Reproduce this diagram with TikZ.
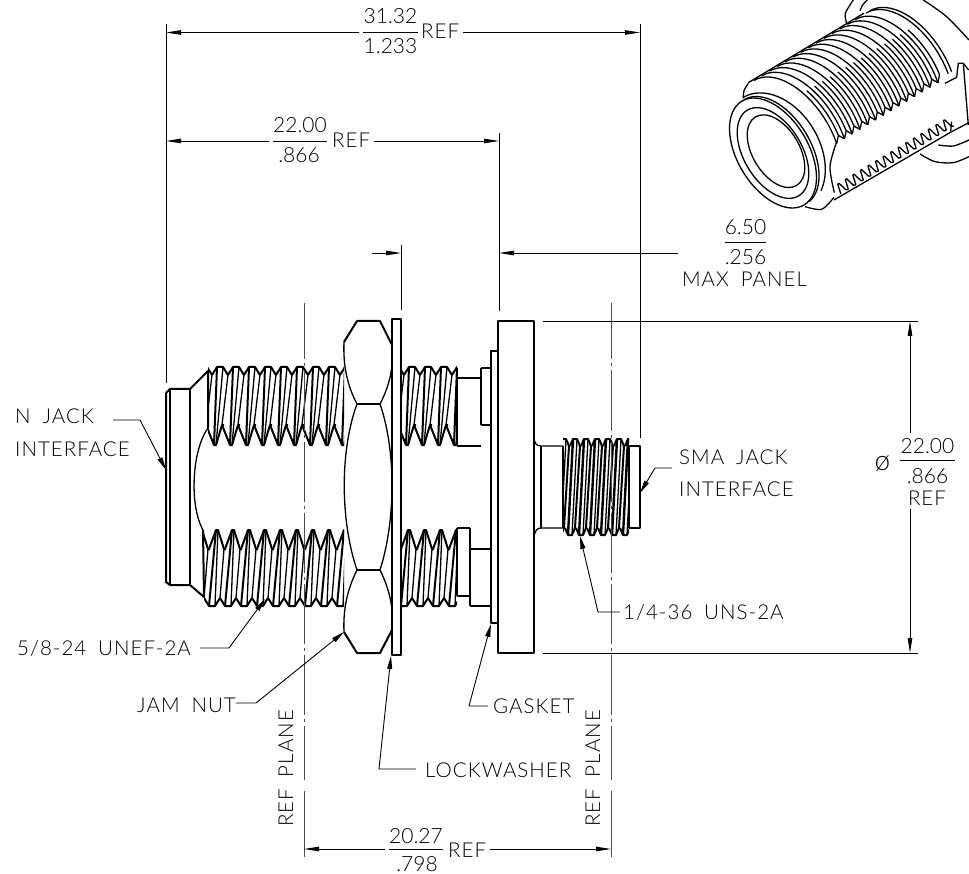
\documentclass[tikz,border=0pt]{standalone}
\usepackage{fontspec}
\setmainfont{Lato}[UprightFont=* Light,LetterSpace=5,WordSpace=1.8]
\newfontfamily\numfont{Lato}[UprightFont=* Light]
\usetikzlibrary{arrows.meta}
\tikzset{
  part/.style={line width=2pt,line join=round},
  thin part/.style={line width=1.3pt,line join=round},
  dim/.style={line width=0.9pt,-{Triangle[length=15pt,width=4.5pt]}},
  ext/.style={line width=0.9pt},
  leader/.style={line width=0.9pt,line join=round,-{Triangle[length=13pt,width=5pt]}},
  centerline/.style={line width=1pt,black!70,dash pattern=on 60pt off 4pt on 3pt off 4pt,dash phase=3.5pt},
  txt/.style={inner sep=0pt,font=\fontsize{20.5}{24}\selectfont,anchor=base west},
  num/.style={inner sep=0pt,font=\numfont\fontsize{21}{24}\selectfont,anchor=base}
}
% one turn of the big thread, top half and bottom half
\newcommand{\upperturn}[1]{
  \draw[part] (#1-8,375) -- (#1-3,367) -- (#1+3,367) -- (#1+8,375);
  \draw[part] (#1-14,425) -- (#1-6,445) -- (#1-4,445) -- (#1+2,425) -- (#1+4,425);
  \draw[part] (#1-3,367) -- (#1-6,445);
  \draw[thin part] (#1+3,367) -- (#1-4,445);
  \draw[thin part] (#1+8,375) -- (#1+2,425);
}
\newcommand{\lowerturn}[1]{
  \draw[part] (#1-3,549) -- (#1+4,530) -- (#1+6,530) -- (#1+12,549) -- (#1+14,549);
  \draw[part] (#1-8,598) -- (#1-3,606) -- (#1+3,606) -- (#1+8,598);
  \draw[part] (#1+4,530) -- (#1-3,606);
  \draw[thin part] (#1+6,530) -- (#1+3,606);
  \draw[thin part] (#1+12,549) -- (#1+8,598);
}
\newcommand{\smaturn}[1]{
  \draw[part] (#1-5,446) -- (#1-2,439) -- (#1+2,439) -- (#1+5,446);
  \draw[part] (#1-10,528) -- (#1-7,535) -- (#1-3,535) -- (#1,528);
  \draw[line width=2.4pt] (#1-2,439) -- (#1-7,535);
  \draw[thin part] (#1+2,439) -- (#1-3,535);
  \draw[line width=2pt] (#1+5,446) -- (#1,528);
}
\begin{document}
\begin{tikzpicture}[x=1pt,y=-1pt]
  \useasboundingbox (0,0) rectangle (969,874);

  % threads
  \begin{scope}
    \clip (208,360) rectangle (344,450);
    \foreach \c in {204,220,...,348} {\upperturn{\c}}
  \end{scope}
  \begin{scope}
    \clip (204,525) rectangle (344,612);
    \foreach \c in {196,212,...,340} {\lowerturn{\c}}
  \end{scope}
  \begin{scope}
    \clip (401,360) rectangle (457,450);
    \foreach \c in {396,412,...,460} {\upperturn{\c}}
  \end{scope}
  \begin{scope}
    \clip (401,525) rectangle (457,612);
    \foreach \c in {388,404,...,452} {\lowerturn{\c}}
  \end{scope}
  \begin{scope}
    \clip (563,435) rectangle (629,540);
    \foreach \c in {564,575,...,641} {\smaturn{\c}}
  \end{scope}

  % n jack end
  \draw[thin part] (170,389) -- (170,585);
  \draw[part] (166,393) -- (170,389) -- (190,389) -- (208,371) -- (208,428);
  \draw[part] (166,393) -- (166,582) -- (170,585) -- (190,585) -- (204,597) -- (203,530);
  \draw[part] (190,389) -- (190,585);
  \draw[thin part] (208,428) .. controls (192,450) and (189,505) .. (203,530);

  % jam nut
  \draw[part] (344,342) -- (357,321) -- (380,321) -- (392,345);
  \draw[part] (344,632) -- (357,653) -- (380,653) -- (392,630);
  \draw[part] (357,404) -- (380,404) (357,570) -- (380,570);
  \draw[thin part] (344,342) .. controls (343,365) and (347,385) .. (357,404);
  \draw[thin part] (392,345) .. controls (394,365) and (390,385) .. (380,404);
  \draw[thin part] (357,404) .. controls (340,450) and (340,520) .. (357,570);
  \draw[thin part] (380,404) .. controls (396,450) and (396,520) .. (380,570);
  \draw[thin part] (344,632) .. controls (343,610) and (347,590) .. (357,570);
  \draw[thin part] (392,630) .. controls (394,610) and (390,590) .. (380,570);
  \draw[thin part,fill=white] (392,319) rectangle (401,655);
  \draw[part] (392,319) -- (392,655);

  % flange side
  \draw[part] (457,378) -- (481,378) (457,446) -- (481,446);
  \draw[part] (457,368) -- (457,446);
  \draw[thin part] (481,368) -- (481,425);
  \draw[thin part] (481,368) -- (491,368) (481,425) -- (491,425);
  \draw[part] (457,528) -- (457,596);
  \draw[thin part] (457,528) -- (470,528) (457,596) -- (470,596);
  \draw[thin part] (470,528) -- (470,606);
  \draw[thin part] (470,549) -- (491,549) (470,606) -- (491,606);
  \draw[thin part] (491,351) rectangle (498,623);
  \draw[part] (498,321) rectangle (534,653);

  % sma end
  \draw[thin part] (534,439) .. controls (535,444) and (537,446) .. (541,446) -- (563,446);
  \draw[thin part] (534,536) .. controls (535,531) and (537,528) .. (541,528) -- (563,528);
  \draw[thin part] (541,446) -- (541,528);
  \draw[thin part] (563,446) -- (563,528);
  \draw[part] (629,446) -- (640,446) -- (640,528) -- (629,528);
  \draw[thin part] (629,446) -- (629,528);

  % reference planes
  \draw[centerline] (304,303) -- (304,780);
  \draw[ext,black!70] (304,791) -- (304,857);
  \draw[centerline] (611,303) -- (611,780);
  \draw[ext,black!70] (611,791) -- (611,857);

  % extension lines
  \draw[ext] (166,24) -- (166,383);
  \draw[ext] (640,24) -- (640,438);
  \draw[ext] (499,133) -- (499,311);
  \draw[ext] (401,245) -- (401,310);
  \draw[ext] (543,321) -- (918,321);
  \draw[ext] (543,653) -- (918,653);

  \coordinate (a1) at (166,32.5);
  \coordinate (b1) at (640,32.5);
  \coordinate (a2) at (166,141);
  \coordinate (b2) at (499,141);
  \coordinate (a3) at (401,253);
  \coordinate (s3) at (372,253);
  \coordinate (b3) at (499,253);
  \coordinate (e3) at (678,253);
  \coordinate (a4) at (910,321);
  \coordinate (b4) at (910,653);
  \coordinate (a5) at (304,849);
  \coordinate (b5) at (611,849);

  % overall length
  \node[num] (num1) at (390.5,24) {31.32};
  \node[num] (den1) at (390.5,54) {1.233};
  \node[txt] (ref1) at (421,39) {REF};
  \draw[ext] (num1.south west |- a1) -- (num1.south east |- a1);
  \draw[dim] (ref1.east |- b1) ++(4,0) -- (b1);
  \draw[dim] (num1.west |- a1) ++(-4,0) -- (a1);

  % length to flange
  \node[num] (num2) at (300,133) {22.00};
  \node[num] (den2) at (299,163) {.866};
  \node[txt] (ref2) at (332,148) {REF};
  \draw[ext] (num2.south west |- a2) -- (num2.south east |- a2);
  \draw[dim] (ref2.east |- b2) ++(4,0) -- (b2);
  \draw[dim] (num2.west |- a2) ++(-4,0) -- (a2);

  % panel
  \node[num] (num3) at (745.5,235) {6.50};
  \node[num] (den3) at (745.5,265) {.256};
  \node[txt,anchor=base] (max3) at (744.5,287) {MAX PANEL};
  \draw[ext] (num3.south west |- 0,242) -- (num3.south east |- 0,242);
  \draw[dim] (s3) -- (a3);
  \draw[dim] (e3) -- (b3);

  % flange diameter
  \node[num] (num4) at (927.5,453) {22.00};
  \node[num] (den4) at (927.5,483) {.866};
  \node[txt,anchor=base] (ref4) at (927,505) {REF};
  \node[num,font=\numfont\fontsize{28}{28}\selectfont] (phi4) at (882.5,470) {ø};
  \draw[ext] (num4.south west |- 0,460.5) -- (num4.south east |- 0,460.5);
  \draw[dim] (910,433) -- (a4);
  \draw[dim] (910,509) -- (b4);

  % between planes
  \node[num] (num5) at (416,843) {20.27};
  \node[num] (den5) at (417,871) {.798};
  \node[txt] (ref5) at (448,857) {REF};
  \draw[ext] (num5.south west |- a5) -- (num5.south east |- a5);
  \draw[dim] (ref5.east |- b5) ++(4,0) -- (b5);
  \draw[dim] (num5.west |- a5) ++(-4,0) -- (a5);

  \node[txt,rotate=90,anchor=base] (plane1) at (293,768.5) {REF PLANE};
  \node[txt,rotate=90,anchor=base] (plane2) at (600,768.5) {REF PLANE};

  % callouts
  \node[txt] (njack) at (15,423) {N JACK};
  \node[txt] (nface) at (15,456) {INTERFACE};
  \coordinate (njacktip) at (166,470);
  \draw[leader] (113,420) -- (140,420) -- (njacktip);

  \node[txt] (smajack) at (679,464) {SMA JACK};
  \node[txt] (smaface) at (679,496) {INTERFACE};
  \coordinate (smatip) at (640,493);
  \draw[leader] (672,468) -- (655,468) -- (smatip);

  \node[txt] (uns) at (623,619) {1/4-36 UNS-2A};
  \coordinate (unstip) at (580,536);
  \draw[leader] (620,612) -- (598,612) -- (unstip);

  \node[txt] (unef) at (17,655) {5/8-24 UNEF-2A};
  \coordinate (uneftip) at (265,599);
  \draw[leader] (200,648) -- (229,648) -- (uneftip);

  \node[txt] (jamnut) at (137,712) {JAM NUT};
  \coordinate (jamtip) at (344,632);
  \draw[leader] (236,703) -- (256,703) -- (jamtip);

  \node[txt] (lockw) at (425,777) {LOCKWASHER};
  \coordinate (locktip) at (391,656);
  \draw[leader] (416,769) -- (379,769) -- (locktip);

  \node[txt] (gasket) at (493,713) {GASKET};
  \coordinate (gaskettip) at (491,624);
  \draw[leader] (488,706) -- (469,706) -- (gaskettip);

  % small view, along its own axis
  \begin{scope}[shift={(773,153)},rotate=31]
    \draw[thin part] (0,0) ellipse [x radius=35.4,y radius=60.5];
    \draw[thin part] (0,0) ellipse [x radius=29,y radius=50];
    \draw[thin part] (3.5,0) ellipse [x radius=23.4,y radius=40];
    \draw[thin part] plot[domain=-90:85,samples=30] ({3+35.4*cos(\x)},{60.5*sin(\x)});
    \draw[thin part] plot[domain=-90:65,samples=30] ({3+44*cos(\x)},{63*sin(\x)});
    \foreach \k in {0,...,13} {
      \pgfmathsetmacro{\uk}{21+9.08*\k}
      \draw[thin part] plot[domain=-90:20,samples=20] ({\uk+41*cos(\x)},{72*sin(\x)});
      \draw[thin part] plot[domain=-30:15,samples=10] ({\uk+4.5+41*cos(\x)},{72*sin(\x)});
      \draw[thin part] (\uk+38.5,24.6) -- (\uk+44.1,18.6);
      \ifnum\k<13
        \draw[thin part] (\uk+44.1,18.6) -- (\uk+47.6,24.6);
      \fi
    }
    \foreach \k in {0,...,14} {
      \pgfmathsetmacro{\uk}{37+8.8*\k}
      \draw[thin part] (\uk,70) -- (\uk+2.5,60) -- (\uk+4,60) -- (\uk+6.5,69) -- (\uk+8.8,70);
    }
    \draw[thin part] (15,-73) -- (150,-73);
    \draw[thin part] plot[domain=-90:18,samples=20] ({152+41*cos(\x)},{72*sin(\x)});
    \draw[thin part] plot[domain=-90:18,samples=20] ({156+41*cos(\x)},{72*sin(\x)});
  \end{scope}
  \begin{scope}[shift={(690,0)},scale=0.3333]
    \draw[thin part] plot[smooth] coordinates {(175,250) (162,272) (160,295)};
    \draw[thin part] plot[smooth] coordinates {(440,425) (420,500) (433,578)};
    \draw[thin part] plot[smooth] coordinates {(345,620) (395,628) (432,592)};
    \draw[thin part] (432,600) -- (785,395);
    \draw[thin part] (785,395) -- (837,368);
    \draw[thin part] (785,365) -- (782,395);
    \draw[thin part] (765,250) -- (800,232) -- (805,190) -- (820,190) -- (836,210);
    \draw[thin part] (820,190) -- (835,375);
    \draw[thin part] plot[smooth] coordinates {(470,70) (466,40) (490,0)};
    \draw[thin part] plot[smooth] coordinates {(510,32) (518,15) (532,0)};
    \draw[thin part] plot[smooth] coordinates {(700,0) (770,50) (837,120)};
    \draw[thin part] plot[smooth] coordinates {(690,462) (735,485) (790,488) (837,470)};
    \draw[thin part] plot[smooth] coordinates {(745,435) (790,438) (837,420)};
  \end{scope}
\end{tikzpicture}
\end{document}
